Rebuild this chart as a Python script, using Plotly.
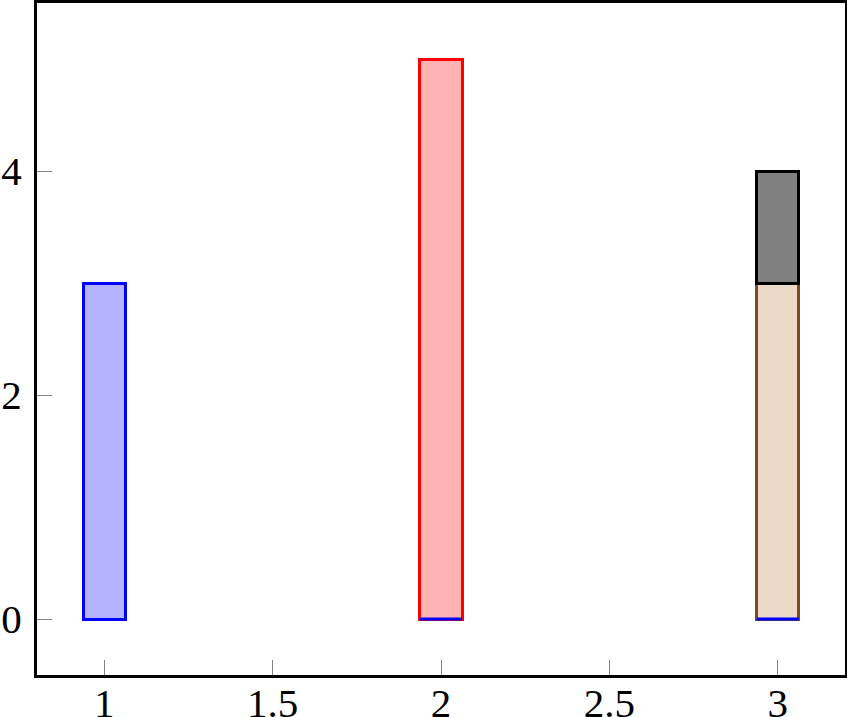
import plotly.graph_objects as go

categories = [1, 2, 3]
blue_vals = [3, 0, 0]
red_vals = [0, 5, 0]
brown_vals = [0, 0, 3]
black_vals = [0, 0, 1]
x_ticks = [1, 1.5, 2, 2.5, 3]
x_tick_labels = ["1", "1.5", "2", "2.5", "3"]
y_ticks = [0, 2, 4]
y_tick_labels = ["0", "2", "4"]

BAR_W = 0.125
LW = 3

series = [
    ("blue", blue_vals, "rgb(179,179,255)", "rgb(0,0,255)"),
    ("red", red_vals, "rgb(255,179,179)", "rgb(255,0,0)"),
    ("brown", brown_vals, "rgb(236,217,198)", "rgb(117,78,39)"),
    ("black", black_vals, "rgb(128,128,128)", "rgb(0,0,0)"),
]

fig = go.Figure()
for name, vals, fill, line in series:
    yv = [v if v != 0 else None for v in vals]
    fig.add_trace(go.Bar(x=categories, y=yv, width=BAR_W, name=name,
                         marker=dict(color=fill, line=dict(color=line, width=LW))))

# zero-height bars of the first series show as a flat blue outline on the baseline
zx, zy = [], []
for c, v in zip(categories, blue_vals):
    if v == 0:
        zx += [c - BAR_W / 2, c + BAR_W / 2, None]
        zy += [0, 0, None]
fig.add_trace(go.Scatter(x=zx, y=zy, mode="lines", line=dict(color="rgb(0,0,255)", width=LW),
                         hoverinfo="skip", showlegend=False))

font = dict(family="Liberation Serif, DejaVu Serif, serif", size=41, color="black")
fig.update_layout(
    barmode="stack",
    width=847, height=717,
    margin=dict(l=37, r=2, t=3, b=42),
    plot_bgcolor="white", paper_bgcolor="white",
    showlegend=False,
    font=font,
)
axis_common = dict(showline=True, linewidth=3, linecolor="black", mirror=True,
                   ticks="inside", ticklen=15, tickwidth=1, tickcolor="rgb(128,128,128)",
                   showgrid=False, zeroline=False, tickfont=font, automargin=False)
fig.update_xaxes(range=[0.8, 3.2], tickmode="array", tickvals=x_ticks, ticktext=x_tick_labels,
                 ticklabelstandoff=-10, **axis_common)
fig.update_yaxes(range=[-0.5, 5.5], tickmode="array", tickvals=y_ticks, ticktext=y_tick_labels,
                 ticklabelstandoff=4, **axis_common)

fig.write_html("out.html", config={"displayModeBar": False},
               post_script="document.body.style.margin='0';document.body.style.overflow='hidden';")
